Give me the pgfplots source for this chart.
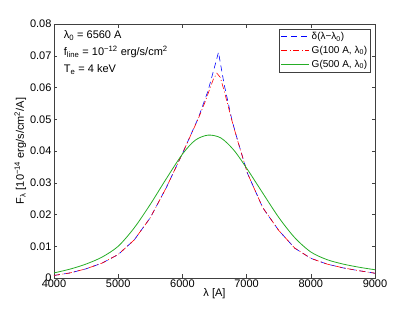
\documentclass[border=0pt]{standalone}
\usepackage{fontspec}
\setmainfont{Liberation Sans}
\usepackage{pgfplots}
\pgfplotsset{compat=1.18}
\definecolor{mgreen}{rgb}{0.15,0.68,0.15}
\begin{document}
\fontsize{10}{12}\selectfont
\begin{tikzpicture}
\path[use as bounding box] (-54pt,-35pt) rectangle (361pt,278pt);
\begin{axis}[
  at={(0pt,0pt)}, anchor=south west,
  scale only axis, width=321pt, height=254pt,
  xmin=4000, xmax=9000, ymin=0, ymax=0.08,
  xtick={4000,5000,6000,7000,8000,9000},
  ytick={0,0.01,0.02,0.03,0.04,0.05,0.06,0.07,0.08},
  yticklabels={0,0.01,0.02,0.03,0.04,0.05,0.06,0.07,0.08},
  xticklabels={4000,5000,6000,7000,8000,9000},
  scaled y ticks=false, scaled x ticks=false,
  tick align=inside, tick pos=both,
  major tick length=3.5pt,
  axis line style={black!75, line width=0.8pt},
  every tick/.style={black!75, line width=0.5pt},
  tick label style={font=\fontsize{11}{13}\selectfont},
  xticklabel style={yshift=1.5pt},
  yticklabel style={xshift=1pt},
  xlabel={λ [A]},
  ylabel={F\textsubscript{λ} [10\textsuperscript{−14} erg/s/cm\textsuperscript{2}/A]},
  label style={font=\fontsize{11}{13}\selectfont},
  xlabel style={yshift=6pt},
  ylabel style={yshift=-3pt},
  legend style={at={(rel axis cs:0.988,0.982)}, anchor=north east,
    draw=black!75, line width=0.8pt, font=\fontsize{10}{12}\selectfont,
    inner sep=1.5pt, row sep=1pt},
  legend cell align=left,
  legend image code/.code={\draw[#1, line width=0.8pt] (0pt,0pt) -- (28pt,0pt);},
]
\addplot[blue, line width=0.6pt, dash pattern=on 6pt off 4pt] coordinates {
(4000,0.0008) (4250,0.0016) (4500,0.0029) (4750,0.0047) (5000,0.0074)
(5250,0.0120) (5500,0.0190) (5750,0.0285) (6000,0.0392) (6250,0.0505)
(6400,0.0590) (6500,0.0664) (6562,0.0711) (6650,0.0610) (6771,0.0498)
(6858,0.0435) (7013,0.0330) (7250,0.0222) (7500,0.0150) (7750,0.0094)
(8000,0.0062) (8250,0.0044) (8500,0.0032) (8750,0.0023) (9000,0.0015)};
\addlegendentry{δ(λ−λ\textsubscript{0})}
\addplot[red, line width=0.6pt, dash pattern=on 6pt off 2.5pt on 1pt off 2.5pt] coordinates {
(4000,0.0008) (4250,0.0016) (4500,0.0029) (4750,0.0047) (5000,0.0074)
(5250,0.0120) (5500,0.0190) (5750,0.0285) (6000,0.0392) (6250,0.0503)
(6350,0.0553) (6420,0.0592) (6480,0.0625) (6537,0.0645) (6590,0.0632)
(6650,0.0590) (6771,0.0496) (6858,0.0434) (7013,0.0330) (7250,0.0222)
(7500,0.0150) (7750,0.0094) (8000,0.0062) (8250,0.0044) (8500,0.0032)
(8750,0.0023) (9000,0.0015)};
\addlegendentry{G(100 A, λ\textsubscript{0})}
\addplot[mgreen, line width=0.8pt, smooth] coordinates {
(4000,0.0016) (4250,0.0028) (4500,0.0044) (4750,0.0066) (5000,0.0100)
(5250,0.0158) (5500,0.0232) (5750,0.0313) (6000,0.0390) (6200,0.0434)
(6400,0.0450) (6600,0.0441) (6800,0.0403) (7000,0.0346) (7250,0.0268)
(7500,0.0191) (7750,0.0127) (8000,0.0082) (8250,0.0058) (8500,0.0044)
(8750,0.0034) (9000,0.0026)};
\addlegendentry{G(500 A, λ\textsubscript{0})}
\node[anchor=north west, align=left, inner sep=0pt,
  font=\fontsize{11}{17}\selectfont] at (rel axis cs:0.03,0.975)
  {λ\textsubscript{0} = 6560 A\\
   f\textsubscript{line} = 10\textsuperscript{−12} erg/s/cm\textsuperscript{2}\\
   T\textsubscript{e} = 4 keV};
\end{axis}
\end{tikzpicture}
\end{document}
